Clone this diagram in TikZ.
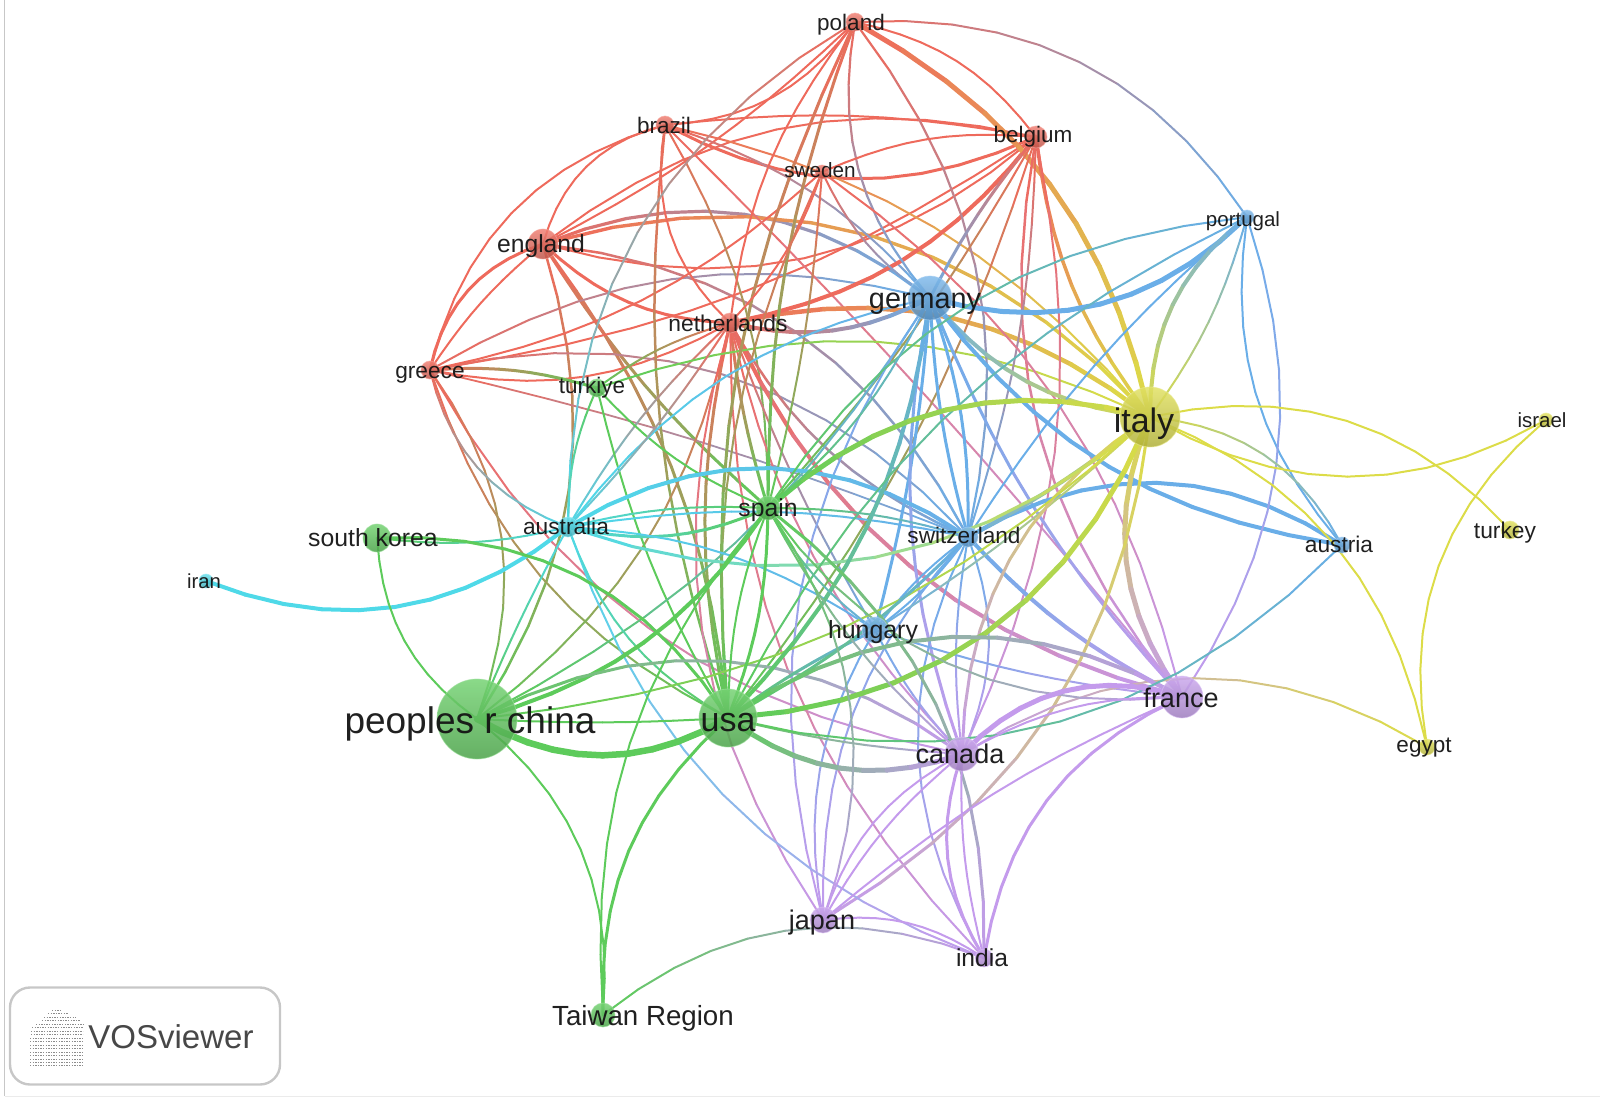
\documentclass[tikz,border=0pt]{standalone}
\usepackage{fontspec}
\setmainfont{Liberation Sans}
\pgfdeclarelayer{edges}
\pgfsetlayers{edges,main}
\definecolor{vred}{HTML}{EE6A5C}
\definecolor{vgreen}{HTML}{5DCB5B}
\definecolor{vblue}{HTML}{6AAEE8}
\definecolor{vyellow}{HTML}{DCDC48}
\definecolor{vpurple}{HTML}{C49BEC}
\definecolor{vcyan}{HTML}{4FD9E8}
\tikzset{
  dot/.style={circle,inner sep=0pt,minimum size=2*#1,fill opacity=.85,draw opacity=.6},
  lab/.style={inner sep=0pt,text=black!92,text opacity=.95,anchor=center},
}
\newcommand\vnode[5]{%
  \colorlet{c#1}{#5}%
  \node[dot=#4 pt,draw=c#1!60!white,line width=.8pt,top color=c#1!85!white,bottom color=c#1!80!black] (#1) at (#2,#3) {};}
\newcommand\vlabel[5]{%
  \node[lab,font=\fontsize{#4}{#4}\selectfont] (#1) at (#2,#3) {#5};}
\newcommand\lnk[4]{%
  \path (#1.center) to[bend left=#3]
    coordinate[pos=.1](q1) coordinate[pos=.2](q2) coordinate[pos=.3](q3)
    coordinate[pos=.4](q4) coordinate[pos=.5](q5) coordinate[pos=.6](q6)
    coordinate[pos=.7](q7) coordinate[pos=.8](q8) coordinate[pos=.9](q9) (#2.center);
  \coordinate (q0) at (#1.center);
  \coordinate (q10) at (#2.center);
  \foreach \j/\i/\m in {0/1/95,1/2/85,2/3/75,3/4/65,4/5/55,5/6/45,6/7/35,7/8/25,8/9/15,9/10/5}{
    \draw[line width=#4pt,line cap=round,draw=c#1!\m!c#2] (q\j) -- (q\i);}%
}
\begin{document}
\begin{tikzpicture}[x=1pt,y=-1pt]
\useasboundingbox (0,0) rectangle (1600,1101);
\coordinate (pgA) at (4.5,0);
\coordinate (pgB) at (4.5,1096);
\coordinate (pgC) at (1600,1096);
\draw[black!22,line width=1.2pt] (pgA) -- (pgB);
\draw[black!8,line width=1pt] (pgB) -- (pgC);
% nodes
\vnode{pl}{855}{22}{9}{vred}
\vnode{br}{665}{125}{9}{vred}
\vnode{be}{1036}{137}{11}{vred}
\vnode{sw}{822}{172}{7}{vred}
\vnode{en}{543}{244}{15}{vred}
\vnode{nl}{730}{323}{10}{vred}
\vnode{gr}{430}{370}{9}{vred}
\vnode{ge}{930}{298}{22}{vblue}
\vnode{pt}{1247}{217}{7}{vblue}
\vnode{sz}{968}{537}{10}{vblue}
\vnode{aut}{1342}{545}{8}{vblue}
\vnode{hu}{875}{630}{13}{vblue}
\vnode{it}{1150}{417}{30}{vyellow}
\vnode{il}{1546}{420}{7}{vyellow}
\vnode{tu}{1510}{530}{9}{vyellow}
\vnode{eg}{1427}{747}{8}{vyellow}
\vnode{tk}{597}{388}{9}{vgreen}
\vnode{sp}{768}{508}{12}{vgreen}
\vnode{sk}{377}{538}{14}{vgreen}
\vnode{cn}{477}{719}{40}{vgreen}
\vnode{us}{728}{718}{29}{vgreen}
\vnode{tw}{603}{1015}{12}{vgreen}
\vnode{au}{568}{527}{10}{vcyan}
\vnode{ir}{206}{581}{7}{vcyan}
\vnode{fr}{1182}{697}{21}{vpurple}
\vnode{ca}{962}{754}{17}{vpurple}
\vnode{ja}{823}{920}{13}{vpurple}
\vnode{ind}{984}{958}{9}{vpurple}
% edges
\begin{pgfonlayer}{edges}
% red cluster
\lnk{gr}{en}{30}{3}
\lnk{gr}{en}{8}{2}
\lnk{gr}{br}{30}{2}
\lnk{en}{br}{30}{2}
\lnk{br}{pl}{-25}{2}
\lnk{en}{pl}{-8}{2}
\lnk{br}{be}{-26}{3}
\lnk{br}{be}{8}{2}
\lnk{en}{be}{25}{2}
\lnk{en}{be}{-28}{2}
\lnk{en}{nl}{-20}{3}
\lnk{en}{sp}{-8}{3}
\lnk{en}{us}{15}{3}
\lnk{en}{cn}{25}{2.5}
\lnk{en}{sz}{28}{2.5}
\lnk{en}{ge}{30}{3.2}
\lnk{en}{it}{32}{3.4}
\lnk{gr}{nl}{-20}{2}
\lnk{gr}{be}{-12}{2}
\lnk{gr}{tk}{10}{3}
\lnk{gr}{ge}{22}{2}
\lnk{gr}{sz}{30}{2}
\lnk{gr}{sz}{4}{1.8}
\lnk{gr}{us}{-22}{2}
\lnk{gr}{ca}{-25}{2}
\lnk{gr}{cn}{28}{2}
\lnk{gr}{au}{-28}{2}
\lnk{gr}{sw}{-15}{2}
\lnk{br}{nl}{-28}{2}
\lnk{br}{us}{-12}{2.5}
\lnk{br}{ge}{15}{2}
\lnk{br}{it}{18}{2}
\lnk{br}{fr}{3}{2}
\lnk{br}{sp}{15}{2}
\lnk{nl}{it}{25}{4.5}
\lnk{nl}{ge}{-20}{4}
\lnk{nl}{sp}{-5}{3}
\lnk{nl}{us}{-12}{3}
\lnk{nl}{cn}{20}{2}
\lnk{nl}{au}{-8}{2}
\lnk{nl}{pl}{15}{2}
\lnk{nl}{be}{-20}{4}
\lnk{nl}{fr}{-25}{4}
\lnk{nl}{ca}{-15}{2}
\lnk{nl}{sz}{-18}{2.5}
\lnk{nl}{hu}{-5}{2}
\lnk{nl}{ja}{-25}{2}
\lnk{nl}{ind}{-22}{2}
\lnk{tk}{nl}{10}{2}
\lnk{tk}{it}{22}{2}
\lnk{tk}{sp}{-12}{2}
\lnk{tk}{us}{-8}{2}
\lnk{pl}{pt}{30}{2}
\lnk{pl}{be}{20}{2}
\lnk{pl}{it}{24}{5}
\lnk{pl}{sz}{25}{2.2}
\lnk{pl}{ge}{-25}{2.2}
\lnk{pl}{au}{-30}{2}
\lnk{pl}{us}{-15}{3}
\lnk{pl}{sp}{-10}{3}
\lnk{be}{it}{-15}{3.5}
\lnk{be}{fr}{-25}{2.5}
\lnk{be}{ca}{18}{2}
\lnk{be}{sz}{8}{2}
\lnk{be}{sp}{6}{2}
\lnk{be}{us}{10}{2}
\lnk{ge}{be}{6}{3}
\lnk{sw}{be}{14}{2}
\lnk{sw}{nl}{12}{2}
\lnk{sw}{ge}{-15}{2}
\lnk{sw}{us}{-15}{2}
\lnk{sw}{sp}{5}{2}
\lnk{sw}{fr}{20}{2}
% blue cluster
\lnk{ge}{pt}{-30}{5}
\lnk{ge}{it}{-22}{4}
\lnk{ge}{aut}{-22}{4}
\lnk{ge}{sz}{10}{3}
\lnk{ge}{sz}{-6}{3}
\lnk{ge}{hu}{5}{3}
\lnk{ge}{ca}{-15}{3}
\lnk{ge}{fr}{-10}{3}
\lnk{ge}{cn}{15}{2}
\lnk{ge}{ja}{-25}{2}
\lnk{sz}{aut}{32}{4}
\lnk{sz}{it}{-5}{4}
\lnk{sz}{pt}{8}{2}
\lnk{sz}{fr}{-10}{4}
\lnk{sz}{ca}{22}{2}
\lnk{sz}{ca}{-8}{2}
\lnk{sz}{hu}{8}{2}
\lnk{sz}{hu}{-8}{2}
\lnk{sz}{ja}{-22}{2}
\lnk{sz}{ind}{-28}{2}
\lnk{hu}{ja}{-20}{2}
\lnk{hu}{ca}{-8}{2}
\lnk{hu}{fr}{-6}{2}
\lnk{hu}{it}{-5}{2}
\lnk{pt}{aut}{-24}{2}
\lnk{pt}{fr}{26}{2}
\lnk{it}{pt}{26}{4}
\lnk{it}{pt}{-10}{2}
% yellow cluster
\lnk{it}{aut}{28}{2}
\lnk{it}{tu}{30}{2}
\lnk{it}{il}{-30}{2}
\lnk{it}{eg}{28}{2}
\lnk{il}{eg}{-30}{2}
\lnk{it}{fr}{-29}{5}
\lnk{ca}{it}{28}{3}
\lnk{ja}{it}{-26}{3}
\lnk{ca}{eg}{32}{2}
% cyan
\lnk{ir}{au}{-30}{4}
\lnk{au}{tk}{12}{2}
\lnk{au}{ge}{20}{2}
\lnk{au}{nl}{-5}{2}
\lnk{au}{sp}{-18}{3}
\lnk{au}{sp}{8}{2}
\lnk{au}{sz}{33}{4}
\lnk{au}{sz}{10}{2}
\lnk{au}{hu}{15}{2}
\lnk{au}{it}{-30}{3}
\lnk{au}{ind}{-25}{2}
\lnk{au}{us}{-20}{2}
\lnk{au}{cn}{-3}{2}
% green cluster
\lnk{sk}{au}{-10}{2}
\lnk{sk}{us}{30}{3}
\lnk{sk}{cn}{-25}{2}
\lnk{cn}{sp}{-20}{4}
\lnk{cn}{us}{-30}{6.5}
\lnk{cn}{us}{-3}{2}
\lnk{cn}{ca}{32}{3}
\lnk{cn}{it}{-18}{2}
\lnk{cn}{tw}{28}{2}
\lnk{us}{tw}{-25}{3}
\lnk{sp}{tw}{-22}{2}
\lnk{tw}{ind}{30}{2}
\lnk{us}{ge}{-18}{4}
\lnk{us}{hu}{5}{3}
\lnk{us}{sz}{-8}{3}
\lnk{us}{it}{-32}{5}
\lnk{us}{fr}{32}{4}
\lnk{us}{ca}{-28}{5}
\lnk{us}{ca}{-5}{2}
\lnk{us}{pt}{18}{2}
\lnk{us}{aut}{-30}{2}
\lnk{sp}{us}{10}{3}
\lnk{sp}{us}{-10}{2}
\lnk{sp}{pt}{25}{2}
\lnk{sp}{it}{28}{5}
\lnk{sp}{ge}{-12}{2}
\lnk{sp}{sz}{8}{2}
\lnk{sp}{fr}{-30}{2}
\lnk{sp}{ca}{-10}{2}
\lnk{sp}{hu}{-12}{2}
\lnk{sp}{ind}{27}{3}
\lnk{sp}{ja}{27}{2}
% purple cluster
\lnk{ca}{fr}{32}{5}
\lnk{ca}{fr}{15}{2}
\lnk{ind}{fr}{28}{3}
\lnk{ja}{fr}{8}{2}
\lnk{ja}{ca}{22}{2}
\lnk{ja}{ca}{10}{2}
\lnk{ca}{ind}{-25}{3}
\lnk{ca}{ind}{-8}{2}
\lnk{ja}{ind}{20}{2}
\end{pgfonlayer}
% labels
\vlabel{Lpl}{851}{25}{22.5}{poland}
\vlabel{Lbr}{664}{125}{22.5}{brazil}
\vlabel{Lbe}{1033}{137}{22.5}{belgium}
\vlabel{Lsw}{820}{170}{20.7}{sweden}
\vlabel{Lpt}{1243}{221}{20.5}{portugal}
\vlabel{Len}{541}{246}{24.7}{england}
\vlabel{Lge}{925}{304}{28.8}{germany}
\vlabel{Lnl}{728}{323}{22.8}{netherlands}
\vlabel{Lgr}{430}{375}{22.7}{greece}
\vlabel{Ltk}{592}{388}{22.5}{turkiye}
\vlabel{Lit}{1144}{424}{34}{italy}
\vlabel{Lil}{1542}{420}{20.5}{israel}
\vlabel{Ltu}{1505}{533}{22.8}{turkey}
\vlabel{Lsp}{768}{510}{24.7}{spain}
\vlabel{Lau}{566}{526}{22.7}{australia}
\vlabel{Lsk}{373}{538}{24.8}{south korea}
\vlabel{Lsz}{964}{535}{22.6}{switzerland}
\vlabel{Laut}{1339}{544}{22.7}{austria}
\vlabel{Lir}{204}{581}{20.3}{iran}
\vlabel{Lhu}{873}{632}{24.9}{hungary}
\vlabel{Lfr}{1181}{698}{27}{france}
\vlabel{Lcn}{470}{724}{37}{peoples r china}
\vlabel{Lus}{728}{723}{34}{usa}
\vlabel{Lca}{960}{754}{27}{canada}
\vlabel{Leg}{1424}{748}{22.5}{egypt}
\vlabel{Lja}{822}{923}{27}{japan}
\vlabel{Lind}{982}{958}{24.6}{india}
\vlabel{Ltw}{643}{1018}{27.7}{Taiwan Region}
% logo
\node[draw=black!22,line width=2.4pt,rounded corners=20pt,minimum width=270pt,minimum height=97pt,inner sep=0pt] (logobox) at (145,1036) {};
\node[inner sep=0pt,text=black!72,font=\fontsize{33}{33}\selectfont] (logotext) at (171,1037) {VOSviewer};
\foreach \yy/\xa/\xb in {1010/52/62,1013/48/68,1017/44/76,1020/42/80,1024/36/83,1027/32/83,1031/31/83,1034/31/83,1038/30/83,1041/30/83,1045/30/83,1048/30/83,1052/30/83,1055/30/83,1059/30/83,1062/30/83,1065/30/83}{
  \draw[black!45,line width=.9pt,dash pattern=on 1.4pt off 1.2pt] (\xa,\yy) -- (\xb,\yy);
}
\end{tikzpicture}
\end{document}
